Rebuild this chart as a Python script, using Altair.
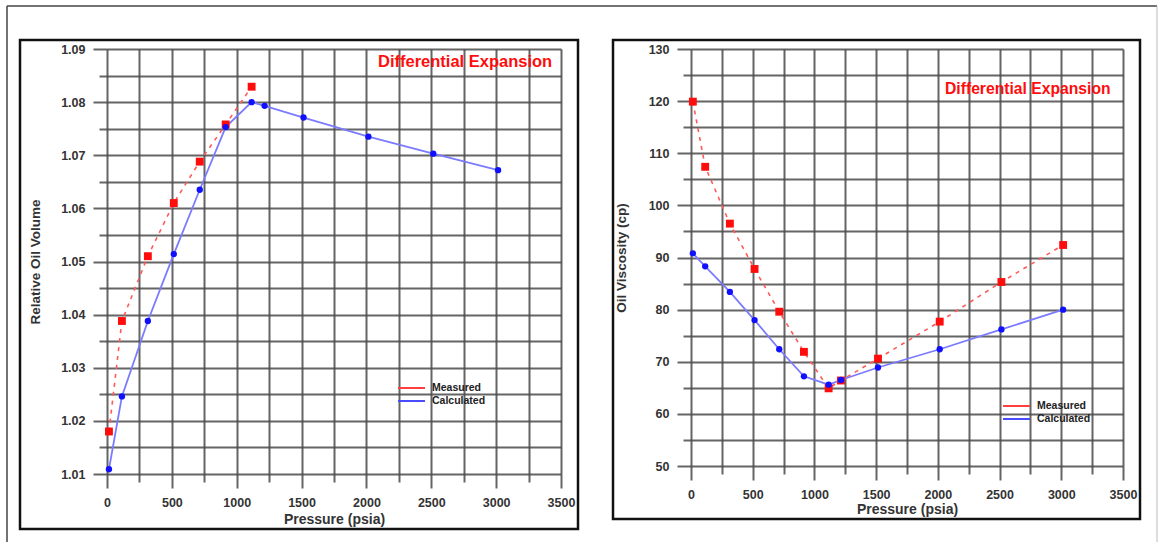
import altair as alt
import pandas as pd

# ---------------- data ----------------
pressure = [15, 115, 315, 515, 715, 915, 1115, 1215, 1515, 2015, 2515, 3015]
vol_measured = [1.0180, 1.0388, 1.0510, 1.0610, 1.0688, 1.0758, 1.0829]
vol_calculated = [1.0109, 1.0246, 1.0388, 1.0514, 1.0635, 1.0753, 1.0800,
                  1.0793, 1.0771, 1.0735, 1.0703, 1.0672]
visc_measured = [119.9, 107.4, 96.5, 87.8, 79.6, 71.9, 64.9, 66.4, 70.6, 77.7, 85.3, 92.4]
visc_calculated = [90.8, 88.3, 83.4, 78.0, 72.4, 67.2, 65.6, 66.5, 68.9, 72.4, 76.2, 80.0]

x_ticks = list(range(0, 3501, 250))
vol_ticks = [round(1.01 + 0.005 * i, 3) for i in range(17)]
visc_ticks = list(range(50, 131, 5))
series = ["Measured", "Calculated"]
panel_title = "Differential Expansion"
x_title = "Pressure (psia)"
vol_title = "Relative Oil Volume"
visc_title = "Oil Viscosity (cp)"

# ---------------- styles ----------------
FONT = "Liberation Sans"
GRID = "#4a4a4a"
TXT = "#333333"
RED_PT = "#ff0d0d"
RED_LN = "#ff5a5a"
BLUE_PT = "#1010ff"
BLUE_LN = "#7b7bff"
LEG_RED = "#ff4040"
LEG_BLUE = "#4a4aff"


def make_axis(values, title, major_test, fmt, label_pad=8, title_pad=4, title_size=14):
    return alt.Axis(
        values=values, grid=True, gridColor=GRID, gridWidth=2, gridOpacity=0.85,
        domain=False, ticks=True, tickColor=GRID, tickWidth=2, tickOpacity=0.85,
        tickSize={"condition": {"test": major_test, "value": 14}, "value": 8},
        labelExpr=f"({major_test}) ? datum.label : ''", format=fmt,
        labelFont=FONT, labelFontSize=12.5, labelFontWeight="bold", labelColor=TXT,
        labelPadding=label_pad, labelFlush=False, labelOverlap=False,
        title=title, titleFont=FONT, titleFontSize=title_size, titleFontWeight="bold",
        titleColor=TXT, titlePadding=title_pad,
    )


def panel(meas, calc, meas_x, y_title, y_domain, y_ticks, y_major, y_fmt, W, H,
          x_title_pad, y_title_pad, title_xy, title_size, legend_xy, frame, extra=None):
    df_m = pd.DataFrame({"pressure": meas_x, "value": meas})
    df_c = pd.DataFrame({"pressure": pressure, "value": calc})
    x_enc = alt.X("pressure:Q", scale=alt.Scale(domain=[0, 3500], nice=False, zero=False),
                  axis=make_axis(x_ticks, x_title, "datum.value % 500 === 0", "d",
                                 title_pad=x_title_pad))
    y_enc = alt.Y("value:Q", scale=alt.Scale(domain=y_domain, nice=False, zero=False),
                  axis=make_axis(y_ticks, y_title, y_major, y_fmt,
                                 title_pad=y_title_pad, title_size=13.5))

    m_line = alt.Chart(df_m).mark_line(color=RED_LN, strokeDash=[4, 5], strokeWidth=1.6).encode(x=x_enc, y=y_enc)
    c_line = alt.Chart(df_c).mark_line(color=BLUE_LN, strokeWidth=1.8).encode(x=x_enc, y=y_enc)
    m_pts = alt.Chart(df_m).mark_square(color=RED_PT, size=62, opacity=1).encode(x=x_enc, y=y_enc)
    c_pts = alt.Chart(df_c).mark_circle(color=BLUE_PT, size=40, opacity=1).encode(x=x_enc, y=y_enc)

    tdf = pd.DataFrame({"label": [panel_title]})
    ttl = alt.Chart(tdf).mark_text(
        align="left", baseline="middle", font=FONT, fontSize=title_size,
        fontWeight="bold", color=RED_PT
    ).encode(x=alt.value(title_xy[0]), y=alt.value(title_xy[1]), text="label:N")

    lx, ly = legend_xy
    leg = []
    for i, (name, col) in enumerate(zip(series, [LEG_RED, LEG_BLUE])):
        ldf = pd.DataFrame({"label": [name]})
        yy = ly + i * 13
        leg.append(alt.Chart(ldf).mark_rule(color=col, strokeWidth=2).encode(
            x=alt.value(lx), x2=alt.value(lx + 27), y=alt.value(yy)))
        leg.append(alt.Chart(ldf).mark_text(
            align="left", baseline="middle", font=FONT, fontSize=10.5,
            fontWeight="bold", color="#222222"
        ).encode(x=alt.value(lx + 34), y=alt.value(yy), text="label:N"))

    fdf = pd.DataFrame({"k": [0]})
    frm = alt.Chart(fdf).mark_rect(fillOpacity=0, stroke="#111111", strokeWidth=2.5).encode(
        x=alt.value(frame[0]), x2=alt.value(frame[1]),
        y=alt.value(frame[2]), y2=alt.value(frame[3]))

    layers = [m_line, c_line, m_pts, c_pts, ttl] + leg + [frm]
    if extra:
        layers += extra
    return alt.layer(*layers).properties(width=W, height=H)


# outer page border (drawn with the left panel, pixel offsets relative to its plot origin)
bdf = pd.DataFrame({"k": [0]})
outer = [
    alt.Chart(bdf).mark_rule(color="#444444", strokeWidth=1.5).encode(
        x=alt.value(-100), x2=alt.value(1050), y=alt.value(-43)),
    alt.Chart(bdf).mark_rule(color="#444444", strokeWidth=1.5).encode(
        x=alt.value(-100), y=alt.value(-43), y2=alt.value(493)),
    alt.Chart(bdf).mark_rule(color="#bbbbbb", strokeWidth=1).encode(
        x=alt.value(1050), y=alt.value(-43), y2=alt.value(493)),
]

vol_major = "abs(datum.value * 100 - round(datum.value * 100)) < 0.001"
left = panel(vol_measured, vol_calculated, pressure[:len(vol_measured)], vol_title,
             [1.01, 1.09], vol_ticks, vol_major, ".2f", 454, 425,
             x_title_pad=4, y_title_pad=18, title_xy=(271, 13), title_size=16.5,
             legend_xy=(291, 339), frame=(-87, 471, -9, 480), extra=outer)

right = panel(visc_measured, visc_calculated, pressure, visc_title,
              [50, 130], visc_ticks, "datum.value % 10 === 0", "d", 432, 417,
              x_title_pad=2, y_title_pad=20, title_xy=(254, 40), title_size=15.7,
              legend_xy=(312, 357), frame=(-78, 449, -9, 470))

chart = alt.hconcat(left, right, spacing=130, bounds="flush").properties(
    padding={"left": 6, "top": 5, "right": 0, "bottom": 0},
    background="white",
).configure_view(strokeWidth=0)

chart.save("out.html", embed_options={"renderer": "svg", "actions": False})
